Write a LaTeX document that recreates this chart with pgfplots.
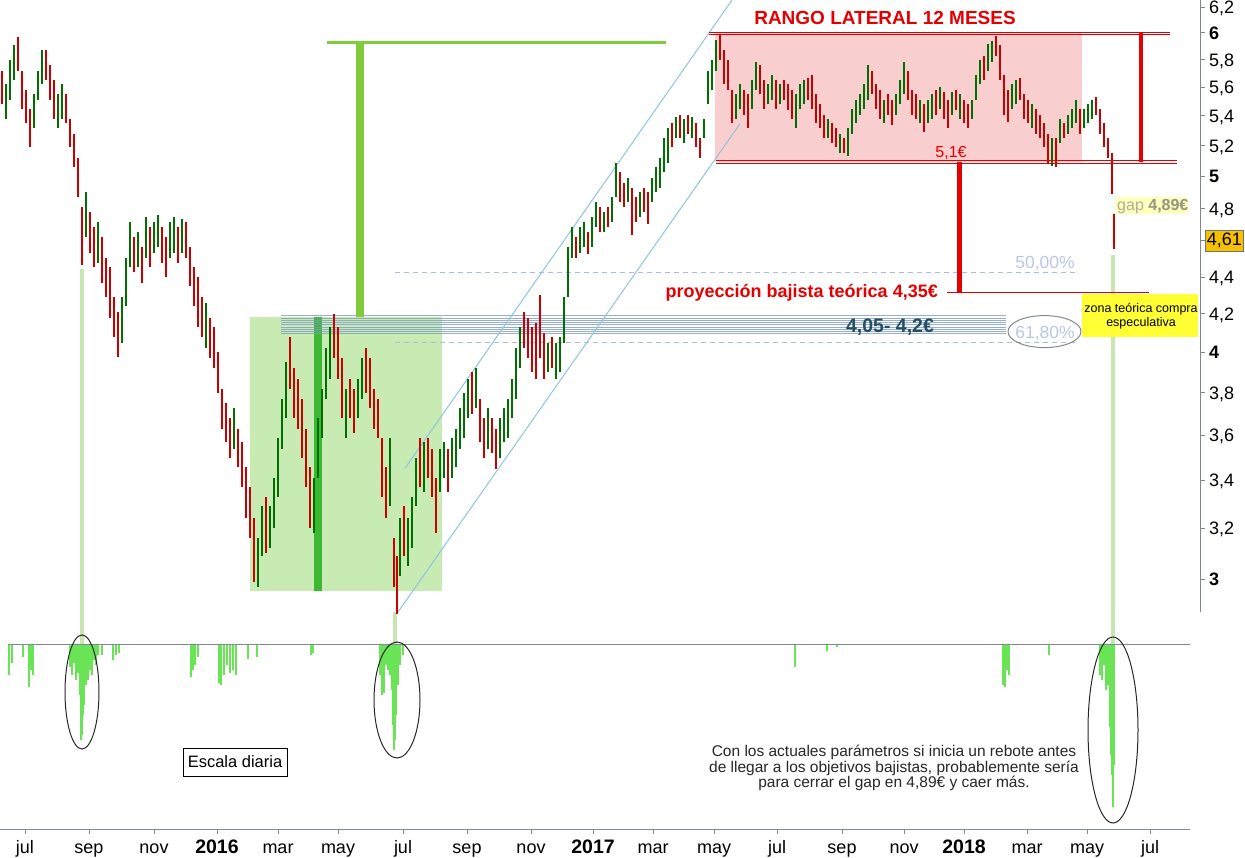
\documentclass[border=0pt]{standalone}
\usepackage{pgfplots}
\usepackage{pgfplotstable}
\pgfplotsset{compat=1.18}
\usepackage{fontspec}
\setmainfont{Liberation Sans}
\newcommand{\fs}[1]{\fontsize{#1}{#1}\selectfont}
\definecolor{barred}{RGB}{200,0,0}
\definecolor{bargreen}{RGB}{0,110,0}
\definecolor{boxgreen}{RGB}{200,235,180}
\definecolor{darkgreenbar}{RGB}{60,184,50}
\definecolor{tgreen}{RGB}{128,204,60}
\definecolor{rangepink}{RGB}{248,206,206}
\definecolor{rred}{RGB}{228,0,0}
\definecolor{chanblue}{RGB}{140,196,224}
\definecolor{fiblue}{RGB}{168,188,224}
\definecolor{fitext}{RGB}{184,198,232}
\definecolor{bandblue}{RGB}{125,155,195}
\definecolor{bandtext}{RGB}{35,78,100}
\definecolor{volgreen}{RGB}{105,228,85}
\definecolor{markgreen}{RGB}{200,230,178}
\definecolor{axisgray}{RGB}{128,136,144}
\definecolor{zonayellow}{RGB}{255,255,51}
\definecolor{gapbg}{RGB}{255,255,190}
\definecolor{gaptext}{RGB}{175,175,150}
\definecolor{lastgold}{RGB}{245,192,0}

% daily bars: t = time position, lo/hi = low/high price (EUR), d = 1 up day, 0 down day
\pgfplotstableread{
t lo hi d
2 5.48 5.72 0
6 5.38 5.62 1
10 5.51 5.80 1
14 5.65 5.91 1
18 5.72 5.97 0
22 5.45 5.72 0
26 5.35 5.58 0
30 5.19 5.45 0
34 5.32 5.55 1
38 5.51 5.72 1
42 5.62 5.87 1
46 5.65 5.87 0
50 5.51 5.76 0
54 5.38 5.65 0
58 5.32 5.55 1
62 5.38 5.62 1
66 5.35 5.55 0
70 5.19 5.38 0
74 5.06 5.28 0
78 4.87 5.12 0
82 4.47 4.81 0
86 4.63 4.90 1
90 4.54 4.78 0
94 4.46 4.69 0
98 4.48 4.72 1
102 4.37 4.63 0
106 4.29 4.51 0
110 4.18 4.46 0
114 4.08 4.29 0
118 3.98 4.21 0
122 4.05 4.29 1
126 4.24 4.51 1
130 4.46 4.72 1
134 4.43 4.63 0
138 4.46 4.66 1
142 4.37 4.57 0
146 4.51 4.75 1
150 4.46 4.69 0
154 4.54 4.72 1
158 4.57 4.76 1
162 4.48 4.69 0
166 4.40 4.63 0
170 4.51 4.72 1
174 4.54 4.75 1
178 4.48 4.69 0
182 4.54 4.74 1
186 4.51 4.72 0
190 4.35 4.57 0
194 4.24 4.46 0
198 4.13 4.40 0
202 4.08 4.29 0
206 4.02 4.26 1
210 3.97 4.18 0
214 3.92 4.13 0
218 3.80 4.00 0
222 3.63 3.82 0
226 3.57 3.75 0
230 3.50 3.68 0
234 3.54 3.73 1
238 3.46 3.63 0
242 3.37 3.57 0
246 3.24 3.46 0
250 3.16 3.37 0
254 2.99 3.24 0
258 2.97 3.16 1
262 3.09 3.29 1
266 3.10 3.33 0
270 3.12 3.29 1
274 3.20 3.41 1
278 3.33 3.59 1
282 3.54 3.77 1
286 3.68 3.95 1
290 3.82 4.08 0
294 3.68 3.92 0
298 3.63 3.87 0
302 3.50 3.77 0
306 3.37 3.63 0
310 3.20 3.46 0
314 3.18 3.41 1
318 3.41 3.68 1
322 3.59 3.82 1
326 3.77 4.02 1
330 3.87 4.13 1
334 3.97 4.20 0
338 3.87 4.13 0
342 3.68 3.97 0
346 3.59 3.82 1
350 3.68 3.87 0
354 3.61 3.82 0
358 3.68 3.87 1
362 3.77 3.97 1
366 3.80 4.02 0
370 3.73 3.97 0
374 3.63 3.82 0
378 3.59 3.77 0
382 3.33 3.59 0
386 3.24 3.46 0
390 3.29 3.59 1
394 2.97 3.16 0
397 2.87 3.09 0
400 3.01 3.24 1
404 3.09 3.29 0
408 3.05 3.24 1
412 3.12 3.33 1
416 3.29 3.50 1
420 3.37 3.59 0
424 3.35 3.57 1
428 3.41 3.59 0
432 3.33 3.54 0
436 3.18 3.41 0
440 3.35 3.54 1
444 3.41 3.57 1
448 3.35 3.54 0
452 3.41 3.59 1
456 3.46 3.63 1
460 3.54 3.73 1
464 3.59 3.80 1
468 3.68 3.87 1
472 3.70 3.90 0
476 3.73 3.92 1
480 3.57 3.77 0
484 3.50 3.68 0
488 3.54 3.73 1
492 3.52 3.68 0
496 3.45 3.63 0
500 3.50 3.68 1
504 3.57 3.73 1
508 3.59 3.77 1
512 3.68 3.87 1
516 3.77 4.02 1
520 3.92 4.13 1
524 4.02 4.21 0
528 3.97 4.18 0
532 3.90 4.13 0
536 3.87 4.15 0
540 3.97 4.30 0
544 3.87 4.10 0
548 3.90 4.05 1
552 3.92 4.08 0
556 3.87 4.05 1
560 3.90 4.08 1
564 4.05 4.29 1
568 4.29 4.57 1
572 4.51 4.69 1
576 4.51 4.63 0
580 4.54 4.69 1
584 4.57 4.72 1
588 4.53 4.66 0
592 4.57 4.75 1
596 4.69 4.84 1
600 4.66 4.81 0
604 4.66 4.78 1
608 4.69 4.81 0
612 4.72 4.87 1
616 4.87 5.09 1
620 4.84 5.03 0
624 4.81 4.96 0
628 4.84 4.99 1
632 4.64 4.93 0
636 4.72 4.87 0
640 4.75 4.90 1
644 4.78 4.93 0
648 4.71 4.90 0
652 4.84 4.99 1
656 4.90 5.06 1
660 4.93 5.12 1
664 5.03 5.25 1
668 5.09 5.32 1
672 5.19 5.35 0
676 5.25 5.39 1
680 5.25 5.41 0
684 5.22 5.38 1
688 5.28 5.41 0
692 5.25 5.39 1
696 5.19 5.35 0
700 5.12 5.25 0
704 5.25 5.38 1
708 5.48 5.72 1
712 5.58 5.80 1
716 5.72 5.95 1
720 5.80 5.99 0
724 5.62 5.87 0
728 5.58 5.80 0
732 5.35 5.58 0
736 5.38 5.55 1
740 5.45 5.62 1
744 5.41 5.58 0
748 5.32 5.55 0
752 5.45 5.65 1
756 5.58 5.78 1
760 5.55 5.76 0
764 5.45 5.65 0
768 5.48 5.62 1
772 5.51 5.69 1
776 5.45 5.65 0
780 5.48 5.62 1
784 5.51 5.65 0
788 5.44 5.62 0
792 5.38 5.58 0
796 5.32 5.55 1
800 5.45 5.62 1
804 5.48 5.65 1
808 5.51 5.67 0
812 5.45 5.69 0
816 5.35 5.55 0
820 5.32 5.48 0
824 5.25 5.41 0
828 5.25 5.38 1
832 5.22 5.35 0
836 5.19 5.32 0
840 5.15 5.28 1
844 5.15 5.25 0
848 5.13 5.32 1
852 5.28 5.45 1
856 5.35 5.51 1
860 5.41 5.55 1
864 5.45 5.62 1
868 5.51 5.76 1
872 5.55 5.72 0
876 5.45 5.62 0
880 5.38 5.58 0
884 5.35 5.51 1
888 5.41 5.55 0
892 5.34 5.51 0
896 5.41 5.55 1
900 5.48 5.65 1
904 5.55 5.78 1
908 5.51 5.72 0
912 5.41 5.58 0
916 5.38 5.55 0
920 5.35 5.51 1
924 5.29 5.48 0
928 5.35 5.51 1
932 5.38 5.55 1
936 5.41 5.58 0
940 5.45 5.60 1
944 5.38 5.57 0
948 5.32 5.51 0
952 5.41 5.57 1
956 5.44 5.58 0
960 5.38 5.55 1
964 5.35 5.51 0
968 5.32 5.48 0
972 5.38 5.51 1
976 5.51 5.69 1
980 5.62 5.80 1
984 5.65 5.83 0
988 5.72 5.92 1
992 5.78 5.94 1
996 5.83 5.98 0
1000 5.65 5.91 0
1004 5.41 5.69 0
1008 5.36 5.58 0
1012 5.45 5.62 1
1016 5.48 5.65 1
1020 5.51 5.67 0
1024 5.38 5.55 0
1028 5.35 5.51 0
1032 5.32 5.48 1
1036 5.28 5.45 0
1040 5.25 5.41 0
1044 5.19 5.35 0
1048 5.09 5.28 0
1052 5.07 5.25 1
1056 5.06 5.25 0
1060 5.22 5.38 1
1064 5.25 5.35 0
1068 5.28 5.41 1
1072 5.32 5.45 1
1076 5.35 5.51 1
1080 5.28 5.45 0
1084 5.32 5.45 1
1088 5.35 5.48 1
1092 5.38 5.51 1
1096 5.41 5.53 0
1100 5.28 5.45 0
1104 5.19 5.35 0
1108 5.12 5.25 0
1112 4.89 5.15 0
1114 4.56 4.77 0
}\pricedata

\pgfplotstableread{
t v
9 30
12 18
23 12
29 42
31 25
33 30
70 22
72 30
74 18
76 35
78 28
80 50
81 95
82 90
83 70
84 60
86 40
88 35
90 25
92 30
94 15
96 20
98 10
102 10
113 15
116 10
119 8
191 32
193 25
195 20
198 12
219 38
221 40
224 30
227 20
230 28
233 25
236 30
248 14
257 12
311 10
313 8
380 30
382 50
384 48
386 20
388 25
390 30
392 45
393 80
394 105
395 95
396 70
398 40
400 20
403 10
795 22
827 6
837 2
1003 40
1005 42
1007 25
1009 30
1049 10
1100 30
1102 35
1104 20
1106 45
1108 40
1110 82
1111 110
1112 130
1113 162
1114 120
}\voldata

\begin{document}
\begin{tikzpicture}[x=1pt,y=1pt]
\useasboundingbox (0pt,0pt) rectangle (1245pt,857pt);
% price panel: y axis is the natural log of the price (log scale), labels in EUR
\begin{axis}[
  at={(0pt,245pt)}, anchor=south west,
  width=1200pt, height=612pt, scale only axis,
  xmin=0, xmax=1200, ymin=1.05675, ymax=1.83354,
  xtick=\empty,
  ytick={1.098612,1.163151,1.223775,1.280934,1.335001,1.386294,1.435085,1.481605,1.528228,1.568616,1.609438,1.648659,1.686399,1.722767,1.757858,1.791759,1.824549},
  yticklabels={\textbf{3},{3,2},{3,4},{3,6},{3,8},\textbf{4},{4,2},{4,4},{},{4,8},\textbf{5},{5,2},{5,4},{5,6},{5,8},\textbf{6},{6,2}},
  ytick pos=right, yticklabel pos=right,
  tick align=outside, major tick length=5pt,
  tick style={axisgray, line width=1pt},
  yticklabel style={font=\fs{18}, anchor=base west, yshift=-6.4pt, inner sep=0pt, xshift=4pt},
  axis line style={draw=none},
  clip=false,
]
% backgrounds
\fill[rangepink] (axis cs:715,{ln(5.095)}) rectangle (axis cs:1082,{ln(6.0)});
\fill[boxgreen] (axis cs:250,{ln(2.954)}) rectangle (axis cs:442,{ln(4.186)});
\fill[darkgreenbar] (axis cs:314,{ln(2.954)}) rectangle (axis cs:322,{ln(4.186)});
\pgfplotsinvokeforeach{4.190,4.178,4.166,4.154,4.142,4.130,4.118,4.106,4.095}{
  \draw[bandblue, line width=0.9pt, opacity=0.8] (axis cs:281,{ln(#1)}) -- (axis cs:1006,{ln(#1)});
}
% fibonacci dashed lines
\draw[fiblue, line width=1pt, dash pattern=on 5pt off 4pt] (axis cs:395,{ln(4.426)}) -- (axis cs:1076,{ln(4.426)});
\draw[fiblue, line width=1pt, dash pattern=on 5pt off 4pt] (axis cs:395,{ln(4.051)}) -- (axis cs:1076,{ln(4.051)});
% channel
\draw[chanblue, line width=1pt] (axis cs:398,{ln(2.877)}) -- (axis cs:740,{ln(5.347)});
\draw[chanblue, line width=1pt] (axis cs:405,{ln(3.453)}) -- (axis cs:732,{ln(6.256)});
% light green marker bars (volume events)
\fill[markgreen] (axis cs:80,{ln(4.449)}) rectangle (axis cs:84,{ln(2.7625)});
\fill[markgreen] (axis cs:393,{ln(2.877)}) rectangle (axis cs:397,{ln(2.7625)});
\fill[markgreen] (axis cs:1111,{ln(4.529)}) rectangle (axis cs:1115,{ln(2.7625)});
% price bars
\addplot[draw=none, mark=none, forget plot, restrict expr to domain={\thisrow{d}}{0.5:1.5},
  error bars/.cd, y dir=plus, y explicit, error mark=none,
  error bar style={draw=bargreen, line width=2pt}]
  table[x=t, y expr={ln(\thisrow{lo})}, y error expr={ln(\thisrow{hi})-ln(\thisrow{lo})}] {\pricedata};
\addplot[draw=none, mark=none, forget plot, restrict expr to domain={\thisrow{d}}{-0.5:0.5},
  error bars/.cd, y dir=plus, y explicit, error mark=none,
  error bar style={draw=barred, line width=2pt}]
  table[x=t, y expr={ln(\thisrow{lo})}, y error expr={ln(\thisrow{hi})-ln(\thisrow{lo})}] {\pricedata};
% green T
\draw[tgreen, line width=3pt] (axis cs:327,{ln(5.93)}) -- (axis cs:666,{ln(5.93)});
\fill[tgreen] (axis cs:356,{ln(4.186)}) rectangle (axis cs:364,{ln(5.93)});
% red range lines
\draw[rred, line width=1pt] (axis cs:709,{ln(6.004)}) -- (axis cs:1170,{ln(6.004)});
\draw[rred, line width=1pt] (axis cs:709,{ln(5.985)}) -- (axis cs:1170,{ln(5.985)});
\draw[rred, line width=1pt] (axis cs:716,{ln(5.102)}) -- (axis cs:1177,{ln(5.102)});
\draw[rred, line width=1pt] (axis cs:716,{ln(5.086)}) -- (axis cs:1177,{ln(5.086)});
\fill[rred] (axis cs:1139,{ln(5.095)}) rectangle (axis cs:1143,{ln(6.0)});
\fill[rred] (axis cs:957,{ln(4.315)}) rectangle (axis cs:962,{ln(5.095)});
\draw[rred, line width=1pt] (axis cs:947,{ln(4.315)}) -- (axis cs:1149,{ln(4.315)});
% texts
\node[rred, font=\bfseries\fs{19}] at (axis cs:885,{ln(6.115)}) {RANGO LATERAL 12 MESES};
\node[rred, font=\fs{16}, anchor=base, inner sep=0pt] at (axis cs:951,{ln(5.121)}) {5,1€};
\node[rred, font=\bfseries\fs{18}, anchor=base east, inner sep=0pt] at (axis cs:938,{ln(4.288)}) {proyección bajista teórica 4,35€};
\node[bandtext, font=\bfseries\fs{19.5}, anchor=base, inner sep=0pt] at (axis cs:890,{ln(4.102)}) {4,05- 4,2€};
\node[fitext, font=\fs{17.5}, anchor=base, inner sep=0pt] at (axis cs:1045,{ln(4.449)}) {50,00\%};
\node[fitext, font=\fs{17.5}, anchor=base, inner sep=0pt] at (axis cs:1045,{ln(4.072)}) {61,80\%};
\draw[axisgray, line width=1pt] (axis cs:1044.5,{ln(4.107)}) ellipse [x radius=36.5pt, y radius=16pt];
% gap label
\fill[gapbg] (axis cs:1115,{ln(4.874)}) rectangle (axis cs:1188,{ln(4.770)});
\node[font=\fs{16}, anchor=base west, inner sep=0pt] at (axis cs:1117,{ln(4.788)}) {\textcolor{gaptext}{gap} \textcolor{gaptext!85!black}{\bfseries 4,89€}};
% zona box
\fill[zonayellow] (axis cs:1082,{ln(4.310)}) rectangle (axis cs:1198,{ln(4.081)});
\node[font=\fs{12.5}, anchor=base, inner sep=0pt] at (axis cs:1141,{ln(4.208)}) {zona teórica compra};
\node[font=\fs{12.5}, anchor=base, inner sep=0pt] at (axis cs:1141,{ln(4.134)}) {especulativa};
% last price box
\node[fill=lastgold, draw=black!55, line width=0.8pt, font=\fs{18}, anchor=west, inner xsep=1.5pt, inner ysep=3pt] at (axis cs:1205,{ln(4.61)}) {4,61};
% frame lines
\draw[axisgray, line width=1pt] (rel axis cs:1,0) -- (rel axis cs:1,1);
\draw[axisgray, line width=1pt] (rel axis cs:0,1) -- (rel axis cs:1,1);
\end{axis}

\begin{axis}[
  at={(0pt,28pt)}, anchor=south west,
  width=1190pt, height=184pt, scale only axis,
  xmin=0, xmax=1190, ymin=-184, ymax=0,
  axis line style={draw=none}, ytick=\empty,
  xtick={25,89,154,217,278,338,403,467,531,593,653,714,777,842,904,964,1027,1087,1150},
  xticklabels={jul,sep,nov,{\bfseries\fs{19.5}2016},mar,may,jul,sep,nov,{\bfseries\fs{19.5}2017},mar,may,jul,sep,nov,{\bfseries\fs{19.5}2018},mar,may,jul},
  xtick pos=bottom,
  tick align=outside, major tick length=5pt,
  tick style={axisgray, line width=1pt},
  xticklabel style={font=\fs{18}, anchor=base, inner sep=0pt, yshift=-19pt},
  clip=false,
]
\draw[axisgray, line width=1pt] (axis cs:0,-184) -- (axis cs:1190,-184);
\draw[axisgray, line width=1pt] (axis cs:8,0) -- (axis cs:1190,0);
\addplot[ycomb, volgreen, line width=1.2pt, mark=none] table[x=t, y expr=-\thisrow{v}] {\voldata};
\draw[black!85, line width=1pt] (axis cs:82,-47) ellipse [x radius=17pt, y radius=57pt];
\draw[black!85, line width=1pt] (axis cs:397,-55) ellipse [x radius=23pt, y radius=58pt];
\draw[black!85, line width=1pt] (axis cs:1113,-85) ellipse [x radius=25pt, y radius=93pt];
\node[draw=black, line width=0.8pt, font=\fs{16.5}, minimum width=104pt, minimum height=28pt, inner sep=0pt] at (axis cs:235,-117) {Escala diaria};
\node[font=\fs{15.5}, align=center, text=black!85] at (axis cs:894,-123) {Con los actuales parámetros si inicia un rebote antes\\de llegar a los objetivos bajistas, probablemente sería\\para cerrar el gap en 4,89€ y caer más.};
\end{axis}
\end{tikzpicture}
\end{document}
